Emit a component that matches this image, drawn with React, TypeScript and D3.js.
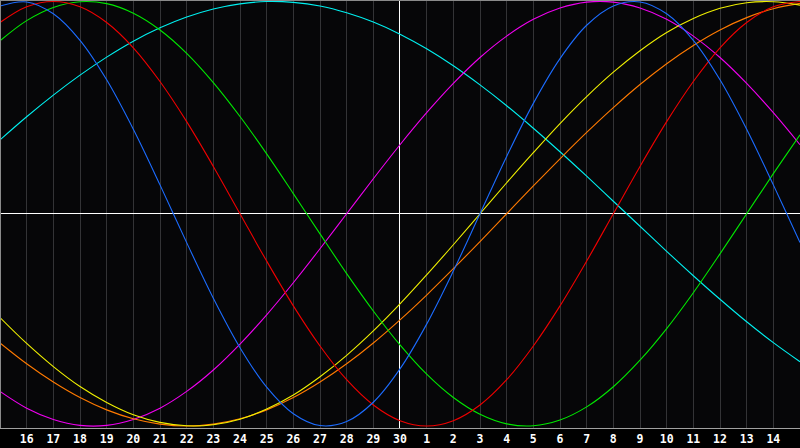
import { scaleLinear, line as d3line, curveCatmullRom } from "d3";

// day labels under each grid line (index 1..29); index 0 and 30 sit on the edges
const dayLabels = [
  "15", "16", "17", "18", "19", "20", "21", "22", "23", "24", "25", "26", "27", "28", "29", "30",
  "1", "2", "3", "4", "5", "6", "7", "8", "9", "10", "11", "12", "13", "14", "15",
];

// values read at each day line, -1 .. 1
const physical = [
  0.979, 0.998, 0.942, 0.817, 0.631, 0.398, 0.136, -0.136, -0.398, -0.631, -0.817, -0.942, -0.998, -0.979, -0.888, -0.731,
  -0.52, -0.27, 0, 0.27, 0.52, 0.731, 0.888, 0.979, 0.998, 0.942, 0.817, 0.631, 0.398, 0.136, -0.136,
];
const emotional = [
  0.901, 0.975, 1, 0.975, 0.901, 0.782, 0.623, 0.434, 0.223, 0, -0.223, -0.434, -0.623, -0.782, -0.901, -0.975,
  -1, -0.975, -0.901, -0.782, -0.623, -0.434, -0.223, 0, 0.223, 0.434, 0.623, 0.782, 0.901, 0.975, 1,
];
const intellectual = [
  0.815, 0.91, 0.972, 0.999, 0.99, 0.945, 0.866, 0.756, 0.618, 0.458, 0.282, 0.095, -0.095, -0.282, -0.458, -0.618,
  -0.756, -0.866, -0.945, -0.99, -0.999, -0.972, -0.91, -0.815, -0.69, -0.541, -0.372, -0.189, 0, 0.189, 0.372,
];
const intuitive = [
  -0.837, -0.916, -0.969, -0.997, -0.997, -0.969, -0.916, -0.837, -0.736, -0.614, -0.476, -0.325, -0.165, 0, 0.165, 0.325,
  0.476, 0.614, 0.736, 0.837, 0.916, 0.969, 0.997, 0.997, 0.969, 0.916, 0.837, 0.736, 0.614, 0.476, 0.325,
];
const aesthetic = [
  -0.489, -0.611, -0.72, -0.814, -0.889, -0.947, -0.983, -0.999, -0.994, -0.968, -0.92, -0.854, -0.768, -0.667, -0.552, -0.425,
  -0.288, -0.146, 0, 0.146, 0.288, 0.425, 0.552, 0.667, 0.768, 0.854, 0.92, 0.968, 0.994, 0.999, 0.983,
];
const awareness = [
  -0.609, -0.707, -0.793, -0.866, -0.924, -0.966, -0.991, -1, -0.991, -0.966, -0.924, -0.866, -0.793, -0.707, -0.609, -0.5,
  -0.383, -0.259, -0.131, 0, 0.131, 0.259, 0.383, 0.5, 0.609, 0.707, 0.793, 0.866, 0.924, 0.966, 0.991,
];
const spiritual = [
  0.348, 0.457, 0.559, 0.653, 0.738, 0.813, 0.876, 0.927, 0.965, 0.989, 1, 0.996, 0.979, 0.947, 0.903, 0.846,
  0.777, 0.697, 0.607, 0.509, 0.403, 0.292, 0.177, 0.059, -0.059, -0.177, -0.292, -0.403, -0.509, -0.607, -0.697,
];

const series = [
  { name: "spiritual", values: spiritual, color: "#00f0f0" },
  { name: "intuitive", values: intuitive, color: "#f000f0" },
  { name: "awareness", values: awareness, color: "#ff7a00" },
  { name: "aesthetic", values: aesthetic, color: "#f0f000" },
  { name: "intellectual", values: intellectual, color: "#00e800" },
  { name: "emotional", values: emotional, color: "#f00000" },
  { name: "physical", values: physical, color: "#1c6cff" },
];

const W = 800;
const H = 448;
const plotBottom = 428;

export default function App() {
  const x = scaleLinear().domain([0, dayLabels.length - 1]).range([0, W]);
  const y = scaleLinear().domain([-1, 1]).range([426, 1.5]);
  const ticks = x.ticks(30).filter((d) => Number.isInteger(d));
  const px = (v: number) => Math.floor(v) + 0.5;

  const line = d3line<number>()
    .x((_, i) => x(i))
    .y((d) => y(d))
    .curve(curveCatmullRom.alpha(0.5));

  return (
    <svg
      width={W}
      height={H}
      style={{ position: "absolute", left: 0, top: 0, display: "block", background: "#000" }}
    >
      <rect x={0} y={0} width={W} height={plotBottom} fill="#060608" />
      {ticks.map((d) =>
        d > 0 && d < dayLabels.length - 1 && d !== 15 ? (
          <line key={d} x1={px(x(d))} x2={px(x(d))} y1={0} y2={plotBottom} stroke="#333336" strokeWidth={1} shapeRendering="crispEdges" />
        ) : null
      )}
      <line x1={0} x2={W} y1={px(y(0))} y2={px(y(0))} stroke="#ffffff" strokeWidth={1} shapeRendering="crispEdges" />
      <line x1={px(x(15)) - 1} x2={px(x(15)) - 1} y1={0} y2={plotBottom} stroke="#ffffff" strokeWidth={1} shapeRendering="crispEdges" />
      {series.map((s) => (
        <path key={s.name} d={line(s.values) ?? undefined} fill="none" stroke={s.color} strokeWidth={1.1} />
      ))}
      <rect x={0.5} y={0.5} width={W} height={plotBottom} fill="none" stroke="#8a8a8a" strokeWidth={1} shapeRendering="crispEdges" />
      <line x1={0} x2={W} y1={plotBottom + 0.5} y2={plotBottom + 0.5} stroke="#a0a0a0" strokeWidth={1} shapeRendering="crispEdges" />
      {ticks.map((d) =>
        d > 0 && d < dayLabels.length - 1 ? (
          <text
            key={d}
            x={x(d)}
            y={443}
            textAnchor="middle"
            fill="#ffffff"
            fontFamily="'DejaVu Sans Mono', monospace"
            fontWeight="bold"
            fontSize={11.5}
          >
            {dayLabels[d]}
          </text>
        ) : null
      )}
    </svg>
  );
}
